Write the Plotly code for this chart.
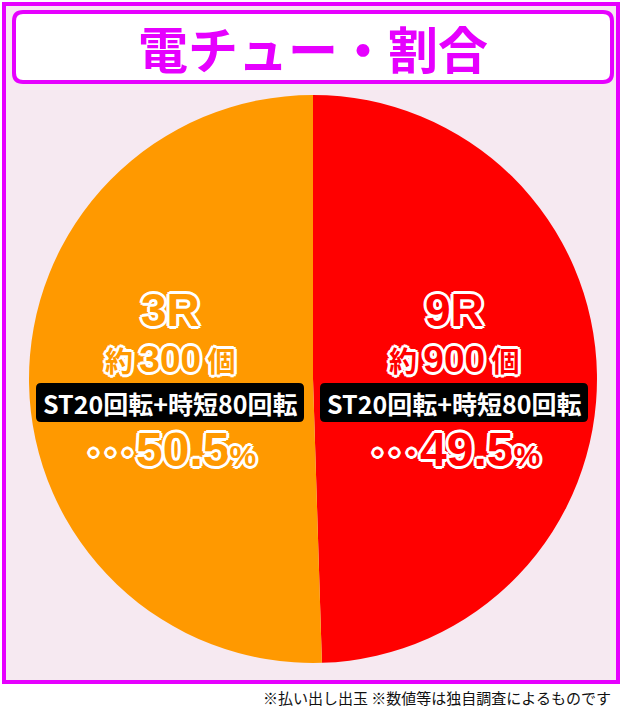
import plotly.graph_objects as go

# chart data
title = "電チュー・割合"
rounds = ["9R", "3R"]
balls = [900, 300]
shares = [49.5, 50.5]
bonus_text = ["ST20回転+時短80回転", "ST20回転+時短80回転"]
slice_colors = ["#ff0000", "#ff9900"]
note = "※払い出し出玉 ※数値等は独自調査によるものです"

W, H = 625, 709
MAGENTA = "#e600ff"
BG = "#f6e9f1"
FONT = "Noto Sans CJK JP"
NUM_FONT = "Arial, Liberation Sans, sans-serif"


def fx(x):
    return x / W


def fy(y):
    return 1 - y / H


def round_rect(x0, y0, x1, y1, r):
    # rounded rectangle path in paper coords, input in pixels
    pts = [
        ("M", x0 + r, y0), ("L", x1 - r, y0), ("Q", x1, y0, x1, y0 + r),
        ("L", x1, y1 - r), ("Q", x1, y1, x1 - r, y1), ("L", x0 + r, y1),
        ("Q", x0, y1, x0, y1 - r), ("L", x0, y0 + r), ("Q", x0, y0, x0 + r, y0),
    ]
    out = []
    for p in pts:
        if p[0] == "Q":
            out.append(f"Q{fx(p[1])},{fy(p[2])} {fx(p[3])},{fy(p[4])}")
        else:
            out.append(f"{p[0]}{fx(p[1])},{fy(p[2])}")
    return " ".join(out) + " Z"


def outline(width, color="#ffffff"):
    w = width
    d = round(width * 0.7)
    parts = [(w, 0), (-w, 0), (0, w), (0, -w), (d, d), (-d, -d), (d, -d), (-d, d)]
    return ", ".join(f"{a}px {b}px 0 {color}" for a, b in parts)


fig = go.Figure()

fig.add_trace(go.Pie(
    labels=rounds,
    values=shares,
    sort=False,
    direction="clockwise",
    rotation=0,
    marker=dict(colors=slice_colors, line=dict(width=0)),
    textinfo="none",
    hoverinfo="label+percent",
    showlegend=False,
    domain=dict(x=[fx(28), fx(598)], y=[fy(663), fy(95)]),
))

shapes = [
    dict(type="rect", xref="paper", yref="paper", layer="below",
         x0=fx(4), x1=fx(618), y0=fy(682), y1=fy(4),
         fillcolor=BG, line=dict(color=MAGENTA, width=4)),
    dict(type="path", xref="paper", yref="paper",
         path=round_rect(14, 12, 612, 82, 9),
         fillcolor="#ffffff", line=dict(color=MAGENTA, width=4)),
]

annotations = [
    dict(x=fx(313), y=fy(47), text=f"<b>{title}</b>", showarrow=False,
         font=dict(family=FONT, size=50, color=MAGENTA, weight=900),
         xanchor="center", yanchor="middle"),
    dict(x=fx(613), y=fy(697), text=note, showarrow=False,
         font=dict(family=FONT, size=15, color="#111111"),
         xanchor="right", yanchor="middle"),
]

centers = [454, 170]
for i in range(len(rounds)):
    cx = centers[i]
    col = slice_colors[i]
    annotations.append(dict(
        x=fx(cx), y=fy(310), text=f"<b>{rounds[i]}</b>", showarrow=False,
        font=dict(family=NUM_FONT, size=46, color=col, weight=700, shadow=outline(3)),
        xanchor="center", yanchor="middle"))
    annotations.append(dict(
        x=fx(cx), y=fy(359),
        text=f"<b>約 <span style='font-family:Arial;font-size:37px'>{balls[i]}</span> 個</b>",
        showarrow=False,
        font=dict(family=FONT, size=28, color=col, weight=700, shadow=outline(3)),
        xanchor="center", yanchor="middle"))
    shapes.append(dict(
        type="path", xref="paper", yref="paper", layer="above",
        path=round_rect(cx - 134, 383, cx + 134, 422, 5),
        fillcolor="#000000", line=dict(width=0)))
    annotations.append(dict(
        x=fx(cx), y=fy(403), text=f"<b>{bonus_text[i]}</b>", showarrow=False,
        font=dict(family=FONT, size=25, color="#ffffff", weight=700),
        xanchor="center", yanchor="middle"))
    pct = f"{shares[i]:.1f}"
    annotations.append(dict(
        x=fx(cx), y=fy(449),
        text=(f"<b><span style='font-family:Noto Sans CJK JP;font-size:34px'>･･･</span>"
              f"{pct}<span style='font-size:30px'>%</span></b>"),
        showarrow=False,
        font=dict(family=NUM_FONT, size=48, color=col, weight=700, shadow=outline(3)),
        xanchor="center", yanchor="middle"))

fig.update_layout(
    width=W, height=H,
    margin=dict(l=0, r=0, t=0, b=0),
    paper_bgcolor="#ffffff",
    plot_bgcolor="#ffffff",
    shapes=shapes,
    annotations=annotations,
)

fig.write_html(
    "out.html",
    config={"displayModeBar": False},
    post_script="document.body.style.margin='0';document.body.style.overflow='hidden';",
)
